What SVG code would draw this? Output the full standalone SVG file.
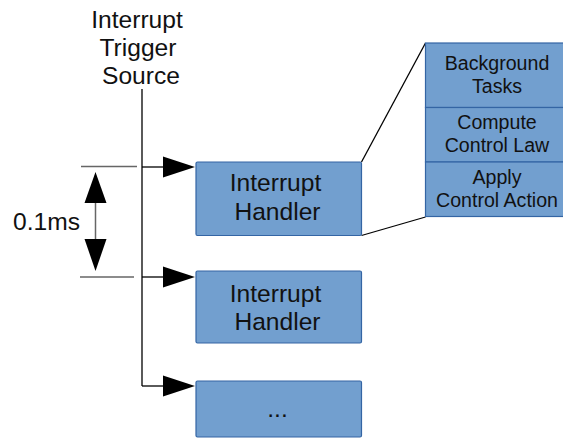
<svg xmlns="http://www.w3.org/2000/svg" width="563" height="438" viewBox="0 0 563 438">
<defs>
<style>
text{font-family:"Liberation Sans",Arial,sans-serif;fill:#111;text-anchor:middle}
.big{font-size:24.6px}
.small{font-size:19.6px}
.box{fill:#729fcf;stroke:#3465a4;stroke-width:1.2}
.ln{stroke:#000;stroke-width:1.3;fill:none}
.dim{stroke:#666;stroke-width:1.5;fill:none}
.head{fill:#000}
</style>
</defs>
<rect width="563" height="438" fill="#fff"/>
<g id="source">
<text class="big" x="137" y="28">Interrupt</text>
<text class="big" x="138" y="56">Trigger</text>
<text class="big" x="141" y="84">Source</text>
</g>
<g id="connectors">
<line class="ln" x1="142" y1="89" x2="142" y2="386"/>
<line class="ln" x1="142" y1="167" x2="166" y2="167"/>
<polygon class="head" points="163,156.5 195,167 163,177.5"/>
<line class="ln" x1="142" y1="277" x2="166" y2="277"/>
<polygon class="head" points="163,266.5 195,277 163,287.5"/>
<line class="ln" x1="142" y1="386" x2="166" y2="386"/>
<polygon class="head" points="163,375.5 195,386 163,396.5"/>
<line class="ln" x1="361.5" y1="162" x2="425.5" y2="43"/>
<line class="ln" x1="361.5" y1="235.5" x2="425.5" y2="217"/>
</g>
<g id="dimension">
<line class="dim" x1="81" y1="166.5" x2="137" y2="166.5"/>
<line class="dim" x1="80" y1="277" x2="134" y2="277"/>
<line class="dim" x1="95.5" y1="195" x2="95.5" y2="248"/>
<polygon class="head" points="95.5,172 106.5,203 84.5,203"/>
<polygon class="head" points="95.5,271 106.5,239 84.5,239"/>
<text class="big" x="46.5" y="230">0.1ms</text>
</g>
<g id="handler1">
<rect class="box" x="196" y="162" width="165.5" height="73.5" rx="1.5"/>
<text class="big" x="275.5" y="191">Interrupt</text>
<text class="big" x="277.5" y="220">Handler</text>
</g>
<g id="handler2">
<rect class="box" x="196" y="271" width="165.5" height="72" rx="1.5"/>
<text class="big" x="275.5" y="302">Interrupt</text>
<text class="big" x="277.5" y="330">Handler</text>
</g>
<g id="handler3">
<rect class="box" x="196" y="381" width="165.5" height="56" rx="1.5"/>
<text class="big" x="277.5" y="417">...</text>
</g>
<g id="tasks">
<rect class="box" x="425.5" y="43" width="140" height="64.5"/>
<rect class="box" x="425.5" y="107.5" width="140" height="54.5"/>
<rect class="box" x="425.5" y="162" width="140" height="54.5"/>
<text class="small" x="497" y="70">Background</text>
<text class="small" x="497" y="93">Tasks</text>
<text class="small" x="497" y="129">Compute</text>
<text class="small" x="497" y="152">Control Law</text>
<text class="small" x="497" y="184">Apply</text>
<text class="small" x="497" y="207">Control Action</text>
</g>
</svg>
